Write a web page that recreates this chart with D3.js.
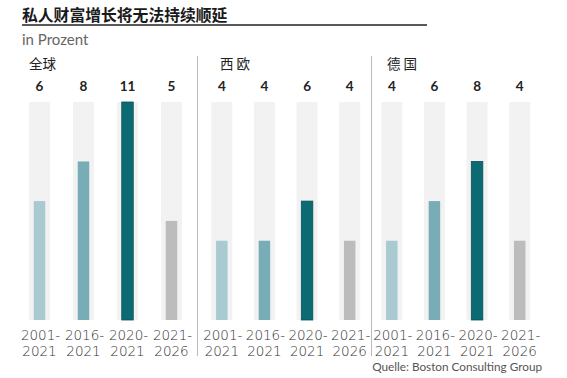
<!DOCTYPE html>
<html><head><meta charset="utf-8">
<script src="https://cdn.jsdelivr.net/npm/d3@7"></script>
<style>body{margin:0;background:#fff}</style>
</head><body>
<svg id="c" width="567" height="378"></svg>
<script>
const title = "私人财富增长将无法持续顺延";
const subtitle = "in Prozent";
const source = "Quelle: Boston Consulting Group";
const regions = ["全球", "西 欧", "德 国"];
const periods = ["2001-|2021", "2016-|2021", "2020-|2021", "2021-|2026"];
const valuesGlobal = [6, 8, 11, 5];
const valuesWestEurope = [4, 4, 6, 4];
const valuesGermany = [4, 6, 8, 4];
const barColors = ["#a8cad0", "#78adb7", "#0c6a72", "#bcbcbc"];

const svg = d3.select("#c");
const panels = [
  {name: regions[0], values: valuesGlobal, range: [17.5, 193.5]},
  {name: regions[1], values: valuesWestEurope, range: [200.5, 371]},
  {name: regions[2], values: valuesGermany, range: [370.5, 541]}
];
const y = d3.scaleLinear().domain([0, 11]).range([320, 102]);

svg.append("text").attr("x", 22).attr("y", 21).text(title)
  .attr("font-family", "'Noto Sans CJK SC'").attr("font-weight", 700)
  .attr("font-size", 15.8).attr("fill", "#1a1a1a");
svg.append("line").attr("x1", 22).attr("x2", 427).attr("y1", 25).attr("y2", 25)
  .attr("stroke", "#222").attr("stroke-width", 1.5);
svg.append("text").attr("x", 22).attr("y", 45).text(subtitle)
  .attr("font-family", "Lato").attr("font-size", 15).attr("fill", "#666");

[197.5, 371.5].forEach(xp => {
  svg.append("line").attr("x1", xp).attr("x2", xp).attr("y1", 56).attr("y2", 356)
    .attr("stroke", "#bbb").attr("stroke-width", 1);
});

const labelX = [29, 220, 387];
panels.forEach((p, pi) => {
  const x = d3.scaleBand().domain(periods).range(p.range);
  const g = svg.append("g");
  g.append("text").attr("x", labelX[pi]).attr("y", 69).text(p.name)
    .attr("font-family", "'Noto Sans CJK SC'").attr("font-size", 13.5).attr("fill", "#222");
  periods.forEach((per, i) => {
    const cx = x(per) + x.bandwidth() / 2;
    g.append("rect").attr("x", cx - 10.5).attr("width", 21)
      .attr("y", y(11)).attr("height", y(0) - y(11)).attr("fill", "#f2f2f2");
    g.append("rect").attr("x", cx - 5.75).attr("width", 11.5)
      .attr("y", y(p.values[i])).attr("height", y(0) - y(p.values[i]))
      .attr("fill", barColors[i])
      .attr("stroke", i === 2 ? "#0a5158" : "none").attr("stroke-width", i === 2 ? 0.8 : 0);
    g.append("text").attr("x", cx).attr("y", 90.5).attr("text-anchor", "middle")
      .text(p.values[i]).attr("font-family", "Lato").attr("font-weight", 700)
      .attr("font-size", 13.5).attr("fill", "#222");
    const parts = per.split("|");
    g.append("text").attr("text-anchor", "middle")
      .attr("font-family", "'DejaVu Sans'").attr("font-weight", 200)
      .attr("font-size", 13.5).attr("fill", "#333")
      .attr("x", cx + 1).attr("y", 340).text(parts[0]);
    g.append("text").attr("text-anchor", "middle")
      .attr("font-family", "'DejaVu Sans'").attr("font-weight", 200)
      .attr("font-size", 13.5).attr("fill", "#333")
      .attr("x", cx).attr("y", 355.5).text(parts[1]);
  });
});

const src = svg.append("text").attr("x", 542).attr("y", 371).attr("text-anchor", "end").text(source)
  .attr("font-family", "Lato").attr("font-size", 12).attr("fill", "#555");
const w = src.node().getComputedTextLength();
if (w > 0) src.attr("font-size", 12 * 170 / w);
</script>
</body></html>
